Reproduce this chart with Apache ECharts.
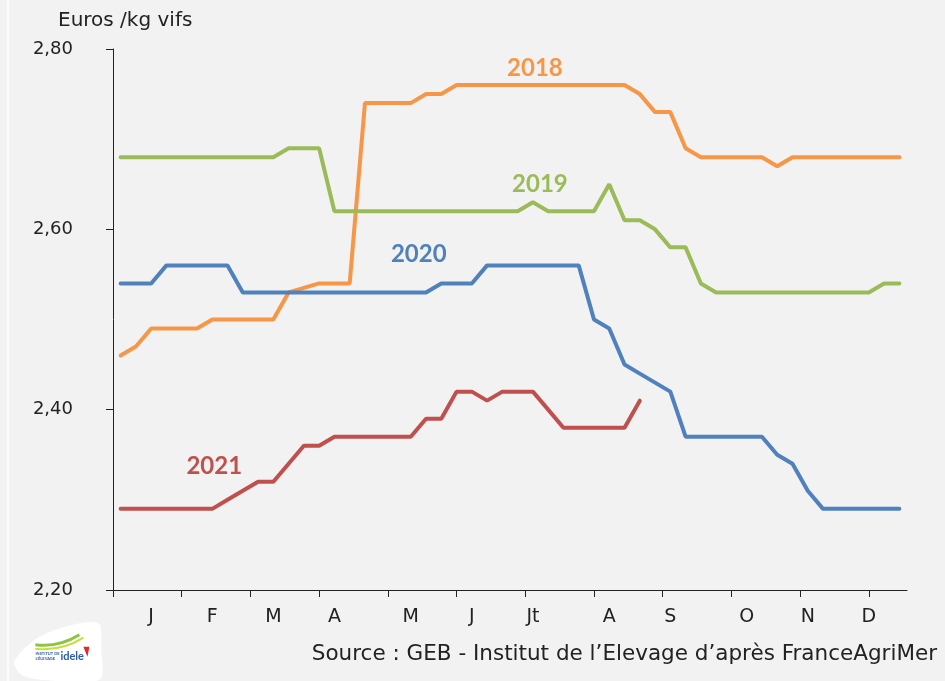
<!DOCTYPE html>
<html lang="fr">
	<head>
		<meta charset="UTF-8" />
		<title>Prix GEB</title>
		<style>
			* {
				box-sizing: border-box;
				margin: 0;
				padding: 0;
			}

			body {
				background: #f2f2f2;
			}

			#chart {
				width: 945px;
				height: 681px;
			}
		</style>
	</head>
	<body>
		<div id="chart"></div>
		<script src="https://cdn.jsdelivr.net/npm/echarts@6/dist/echarts.min.js"></script>
		<script>
			// semaines 1..52, libellés des mois placés sur une semaine du mois
			const weeks = Array.from({ length: 52 }, (_, i) => 'S' + (i + 1))
			const monthNames = ['J', 'F', 'M', 'A', 'M', 'J', 'Jt', 'A', 'S', 'O', 'N', 'D']
			const monthLabelWeeks = [2, 6, 10, 14, 19, 23, 27, 32, 36, 41, 45, 49] // index de semaine
			const monthTicks = [0, 4.5, 9, 13.5, 18, 22.5, 27, 31.5, 36, 40.5, 45, 49.5] // graduations (en semaines)

			// prix (€/kg vif)
			const prix2018 = [
				2.46, 2.47, 2.49, 2.49, 2.49, 2.49, 2.50, 2.50, 2.50, 2.50, 2.50, 2.53, 2.535, 2.54, 2.54, 2.54,
				2.74, 2.74, 2.74, 2.74, 2.75, 2.75, 2.76,
				2.76, 2.76, 2.76, 2.76, 2.76, 2.76, 2.76, 2.76, 2.76, 2.76, 2.76,
				2.75, 2.73, 2.73, 2.69, 2.68, 2.68, 2.68, 2.68, 2.68, 2.67,
				2.68, 2.68, 2.68, 2.68, 2.68, 2.68, 2.68, 2.68
			]
			const prix2019 = [
				2.68, 2.68, 2.68, 2.68, 2.68, 2.68, 2.68, 2.68, 2.68, 2.68, 2.68,
				2.69, 2.69, 2.69,
				2.62, 2.62, 2.62, 2.62, 2.62, 2.62, 2.62, 2.62, 2.62, 2.62, 2.62, 2.62, 2.62,
				2.63, 2.62, 2.62, 2.62, 2.62, 2.65, 2.61, 2.61, 2.60, 2.58, 2.58, 2.54,
				2.53, 2.53, 2.53, 2.53, 2.53, 2.53, 2.53, 2.53, 2.53, 2.53, 2.53,
				2.54, 2.54
			]
			const prix2020 = [
				2.54, 2.54, 2.54, 2.56, 2.56, 2.56, 2.56, 2.56,
				2.53, 2.53, 2.53, 2.53, 2.53, 2.53, 2.53, 2.53, 2.53, 2.53, 2.53, 2.53, 2.53,
				2.54, 2.54, 2.54,
				2.56, 2.56, 2.56, 2.56, 2.56, 2.56, 2.56,
				2.50, 2.49, 2.45, 2.44, 2.43, 2.42,
				2.37, 2.37, 2.37, 2.37, 2.37, 2.37,
				2.35, 2.34, 2.31,
				2.29, 2.29, 2.29, 2.29, 2.29, 2.29
			]
			const prix2021 = [
				2.29, 2.29, 2.29, 2.29, 2.29, 2.29, 2.29, 2.30, 2.31, 2.32, 2.32, 2.34, 2.36, 2.36,
				2.37, 2.37, 2.37, 2.37, 2.37, 2.37, 2.39, 2.39, 2.42, 2.42, 2.41, 2.42, 2.42, 2.42,
				2.40, 2.38, 2.38, 2.38, 2.38, 2.38, 2.41
			]

			const font = "'Century Gothic', 'DejaVu Sans', sans-serif"
			const boldFont = "'Century Gothic', Lato, sans-serif"

			// met l'étiquette de l'année sur un point de la courbe
			function withLabel(values, idx, text, color, offset) {
				return values.map((v, i) => i === idx ? {
					value: v,
					label: {
						show: true,
						formatter: text,
						position: 'top',
						offset: offset,
						color: color,
						fontFamily: boldFont,
						fontWeight: 'bold',
						fontSize: 24
					}
				} : v)
			}

			function line(name, values, color, labelIdx, offset) {
				return {
					name: name,
					type: 'line',
					data: withLabel(values, labelIdx, name, color, offset),
					symbol: 'circle',
					symbolSize: 0,
					showSymbol: true,
					itemStyle: { color: color },
					lineStyle: { color: color, width: 4, cap: 'round' },
					emphasis: { disabled: true },
					z: 3
				}
			}

			const chart = echarts.init(document.getElementById('chart'))
			chart.setOption({
				backgroundColor: '#f2f2f2',
				animation: false,
				title: [{
						text: 'Euros /kg vifs',
						left: 58,
						top: 11,
						padding: 0,
						textStyle: { fontFamily: font, fontSize: 20, fontWeight: 'normal', color: '#222' }
					},
					{
						text: 'Source : GEB - Institut de l\u2019Elevage d\u2019apr\u00e8s FranceAgriMer',
						right: 8,
						top: 643,
						padding: 0,
						textStyle: { fontFamily: font, fontSize: 21.5, fontWeight: 'normal', color: '#222' }
					}
				],
				grid: { left: 113, right: 38, top: 49, bottom: 91, containLabel: false },
				xAxis: [{
						type: 'category',
						data: weeks,
						boundaryGap: true,
						axisLine: { lineStyle: { color: '#222', width: 1 } },
						axisTick: { show: false },
						axisLabel: {
							interval: (idx) => monthLabelWeeks.includes(idx),
							formatter: (v, idx) => monthNames[monthLabelWeeks.indexOf(idx)] || '',
							margin: 18,
							fontFamily: font,
							fontSize: 19,
							color: '#222'
						}
					},
					{
						// graduations entre les mois
						type: 'value',
						position: 'bottom',
						min: 0,
						max: 52,
						axisLine: { show: false },
						axisTick: { show: true, customValues: monthTicks, length: 7, lineStyle: { color: '#222' } },
						axisLabel: { show: false },
						splitLine: { show: false }
					}
				],
				yAxis: {
					type: 'value',
					min: 2.2,
					max: 2.8,
					interval: 0.2,
					axisLine: { show: true, lineStyle: { color: '#222', width: 1 } },
					axisTick: { show: true, length: 7, lineStyle: { color: '#222' } },
					axisLabel: {
						formatter: (v) => v.toFixed(2).replace('.', ','),
						margin: 40,
						fontFamily: font,
						fontSize: 18,
						color: '#222'
					},
					splitLine: { show: false }
				},
				series: [
					line('2018', prix2018, '#F79646', 27, [2, 0]),
					line('2019', prix2019, '#9BBB59', 27, [7, -1]),
					line('2020', prix2020, '#4F81BD', 19, [8, -21]),
					line('2021', prix2021, '#C0504D', 6, [2, -26])
				],
				graphic: [{
						type: 'line',
						shape: { x1: 8, y1: 0, x2: 8, y2: 681 },
						style: { stroke: '#fbfbfb', lineWidth: 2 }
					},
					{
						// logo idele
						type: 'group',
						left: 14,
						top: 622,
						children: [{
								type: 'polygon',
								shape: { points: [[1, 40], [30, 14], [84, 2], [88, 30], [86, 59], [28, 59], [8, 54]], smooth: 0.3 },
								style: { fill: '#ffffff' }
							},
							{
								type: 'bezierCurve',
								shape: { x1: 22, y1: 24, cpx1: 45, cpy1: 27, x2: 66, y2: 14 },
								style: { stroke: '#8cc63e', lineWidth: 3, fill: null }
							},
							{
								type: 'bezierCurve',
								shape: { x1: 22, y1: 28, cpx1: 48, cpy1: 31, x2: 70, y2: 17 },
								style: { stroke: '#c9dd3c', lineWidth: 2, fill: null }
							},
							{
								type: 'polygon',
								shape: { points: [[70, 26], [76, 26], [74, 36]] },
								style: { fill: '#e3262c' }
							},
							{
								type: 'text',
								x: 22,
								y: 31,
								style: { text: 'INSTITUT DE\nL\u2019\u00c9LEVAGE', font: 'bold 4px Lato', fill: '#2a5da8', lineHeight: 5 }
							},
							{
								type: 'text',
								x: 47,
								y: 30,
								style: { text: 'idele', font: 'bold 11px Lato', fill: '#2a5da8' }
							}
						]
					}
				]
			})
		</script>
	</body>
</html>
